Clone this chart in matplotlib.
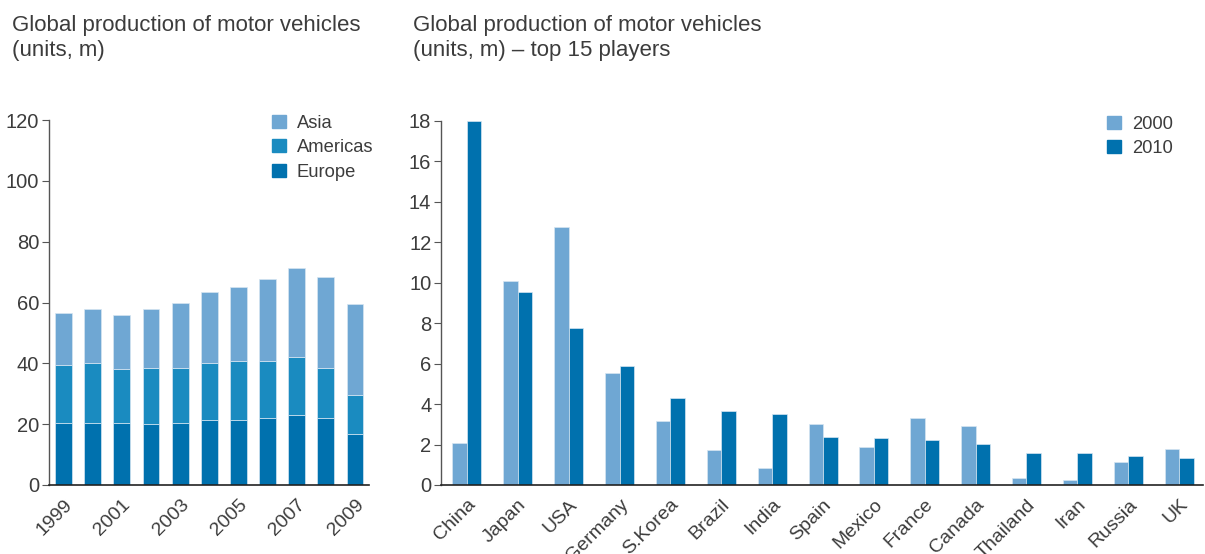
import numpy as np
import matplotlib
matplotlib.use("Agg")
import matplotlib.pyplot as plt
from matplotlib.patches import Patch

plt.rcParams['font.family'] = ['Liberation Sans', 'DejaVu Sans']

years = [1999, 2000, 2001, 2002, 2003, 2004, 2005, 2006, 2007, 2008, 2009]
# cumulative tops, converted to segment sizes below
total_top = [56.4, 57.8, 55.8, 57.8, 59.7, 63.3, 65.0, 67.6, 71.2, 68.3, 59.4]
americas_top = [39.6, 40.0, 38.0, 38.4, 38.4, 40.0, 40.7, 40.7, 42.1, 38.5, 29.6]
europe = [20.5, 20.5, 20.5, 20.1, 20.5, 21.4, 21.4, 22.1, 23.1, 22.1, 16.8]
americas = [a - e for a, e in zip(americas_top, europe)]
asia = [t - a for t, a in zip(total_top, americas_top)]

countries = ["China", "Japan", "USA", "Germany", "S.Korea", "Brazil", "India", "Spain",
             "Mexico", "France", "Canada", "Thailand", "Iran", "Russia", "UK"]
prod_2000 = [2.08, 10.1, 12.77, 5.55, 3.15, 1.71, 0.82, 3.02, 1.86, 3.30, 2.93, 0.35, 0.26, 1.15, 1.78]
prod_2010 = [18.0, 9.56, 7.78, 5.9, 4.3, 3.68, 3.49, 2.39, 2.31, 2.21, 2.04, 1.60, 1.60, 1.42, 1.32]

c_light = "#6fa7d3"
c_mid = "#1a8bc0"
c_dark = "#0071ae"
txt = "#3c3c3c"

fig = plt.figure(figsize=(12.05, 5.54), dpi=100)
ax1 = fig.add_axes([49 / 1205, 1 - 485 / 554, 320 / 1205, 365 / 554])
ax2 = fig.add_axes([441 / 1205, 1 - 485 / 554, 762 / 1205, 364 / 554])

# left: stacked regional production
x = np.arange(len(years))
w = 0.58
ax1.bar(x, europe, w, color=c_dark, edgecolor="#d6e6f2", linewidth=0.5, label="Europe")
ax1.bar(x, americas, w, bottom=europe, color=c_mid, edgecolor="#d6e6f2", linewidth=0.5, label="Americas")
ax1.bar(x, asia, w, bottom=americas_top, color=c_light, edgecolor="#d6e6f2", linewidth=0.5, label="Asia")
ax1.set_xlim(-0.5, 10.48)
ax1.set_ylim(0, 120)
ax1.set_yticks(range(0, 121, 20))
ax1.set_xticks(x[::2])
ax1.set_xticklabels([str(y) for y in years[::2]])

# right: top 15 countries
x2 = np.arange(len(countries))
bw = 0.285
ax2.bar(x2 - bw / 2, prod_2000, bw, color=c_light, edgecolor="#d6e6f2", linewidth=0.5, label="2000")
ax2.bar(x2 + bw / 2, prod_2010, bw, color=c_dark, edgecolor="#d6e6f2", linewidth=0.5, label="2010")
ax2.set_xlim(-0.51, 14.47)
ax2.set_ylim(0, 18)
ax2.set_yticks(range(0, 19, 2))
ax2.set_xticks(x2)
ax2.set_xticklabels(countries)

for ax in (ax1, ax2):
    for s in ("top", "right"):
        ax.spines[s].set_visible(False)
    ax.spines["left"].set_color("#555555")
    ax.spines["bottom"].set_color("#222222")
    ax.spines["left"].set_linewidth(1.0)
    ax.spines["bottom"].set_linewidth(1.2)
    ax.tick_params(axis="y", length=5, width=0.8, color="#555555", labelsize=14.5,
                   labelcolor=txt, pad=2)
    ax.tick_params(axis="x", length=0, labelsize=14, labelcolor=txt, pad=8)
    for lab in ax.get_xticklabels():
        lab.set_rotation(45)
        lab.set_ha("right")
        lab.set_rotation_mode("anchor")

h1 = [Patch(color=c_light), Patch(color=c_mid), Patch(color=c_dark)]
leg1 = ax1.legend(h1, ["Asia", "Americas", "Europe"], loc="upper left",
                  bbox_to_anchor=(0.675, 1.035), frameon=False, fontsize=13.2,
                  handlelength=0.72, handleheight=0.72, handletextpad=0.6,
                  labelspacing=0.42, borderaxespad=0)
for t in leg1.get_texts():
    t.set_color(txt)

h2 = [Patch(color=c_light), Patch(color=c_dark)]
leg2 = ax2.legend(h2, ["2000", "2010"], loc="upper left",
                  bbox_to_anchor=(0.865, 1.035), frameon=False, fontsize=13.2,
                  handlelength=0.72, handleheight=0.72, handletextpad=0.6,
                  labelspacing=0.42, borderaxespad=0)
for t in leg2.get_texts():
    t.set_color(txt)

fig.text(12 / 1205, 1 - 15 / 554, "Global production of motor vehicles\n(units, m)",
         ha="left", va="top", fontsize=16, color=txt, linespacing=1.25)
fig.text(413 / 1205, 1 - 15 / 554,
         "Global production of motor vehicles\n(units, m) \u2013 top 15 players",
         ha="left", va="top", fontsize=16, color=txt, linespacing=1.25)

fig.savefig("out.png", dpi=100)
